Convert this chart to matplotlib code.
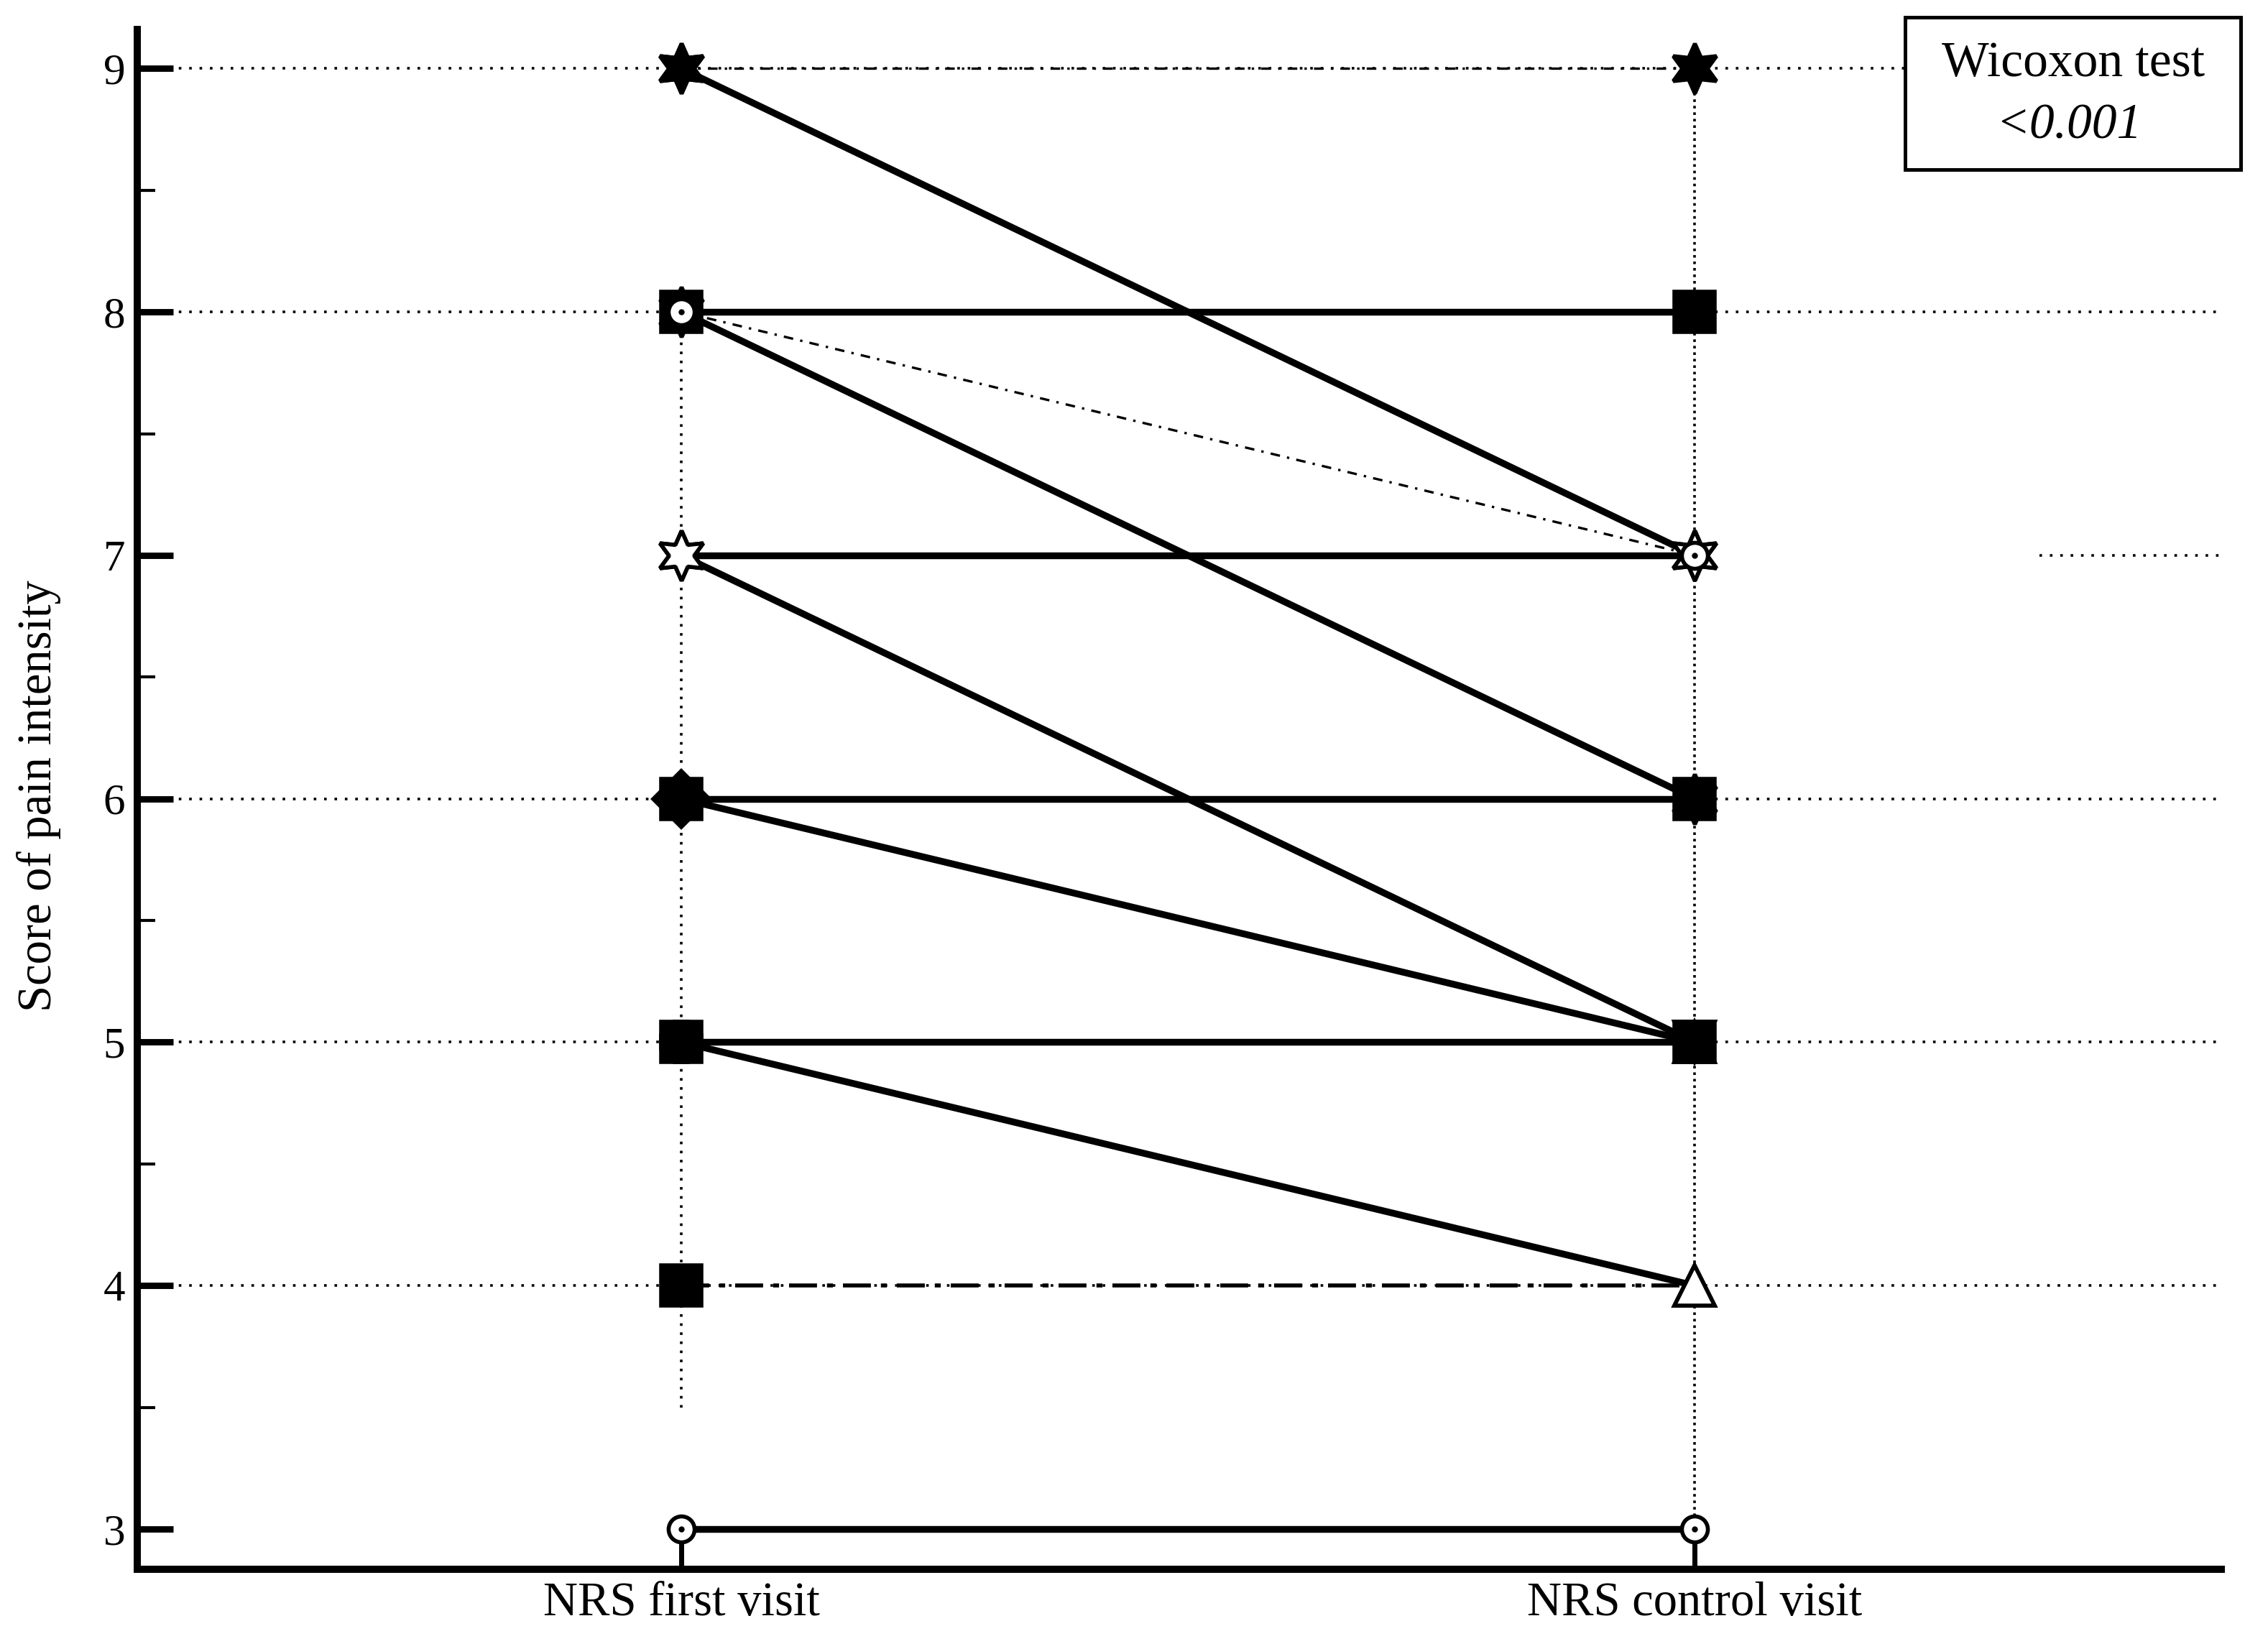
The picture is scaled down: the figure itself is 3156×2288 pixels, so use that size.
import matplotlib
matplotlib.use('Agg')
import matplotlib.pyplot as plt
from matplotlib.patches import Rectangle

plt.rcParams['font.family'] = ['Liberation Serif', 'DejaVu Serif']

# paired NRS scores, one entry per patient group
first_visit = [9, 9, 8, 8, 8, 7, 7, 6, 6, 5, 5, 4, 3]
control_visit = [7, 9, 8, 7, 6, 7, 5, 6, 5, 5, 4, 4, 3]
line_kind = ['solid', 'dashdot', 'solid', 'dashdot', 'solid', 'solid', 'solid',
             'solid', 'solid', 'solid', 'solid', 'dashdot2', 'solid']
marker_first = [(6, 1, 0), (6, 1, 0), 's', 'o', (6, 1, 0), (6, 1, 0), (6, 1, 0),
                's', 'D', 'P', 's', 's', 'o']
marker_ctrl = [(6, 1, 0), (6, 1, 0), 's', 'o', (6, 1, 0), (6, 1, 0), '^',
               's', 'v', 's', '^', '^', 'o']
fill_first = ['black', 'black', 'black', 'white', 'black', 'white', 'white',
              'black', 'black', 'white', 'black', 'black', 'white']
fill_ctrl = ['white', 'black', 'black', 'white', 'black', 'white', 'black',
             'black', 'black', 'black', 'white', 'white', 'white']

visits = ['NRS first visit', 'NRS control visit']
y_ticks = [3, 4, 5, 6, 7, 8, 9]

# dotted reference lines
grid_full = [4, 5, 6, 8, 9]
grid_part = [7]


def marker_size(m):
    if m == 'o':
        return 13
    if isinstance(m, tuple):
        return 25
    return 20


fig = plt.figure(figsize=(15.78, 11.44), dpi=200)
ax = fig.add_axes([0.0605, 0.0455, 0.919, 0.9365])

ax.hlines(grid_full, -0.537, 1.52, colors='black', linestyles=(0, (1, 3)), lw=1.3, zorder=1)
ax.hlines(grid_part, 1.34, 1.52, colors='black', linestyles=(0, (1, 3)), lw=1.3, zorder=1)
ax.vlines([0], 3.5, 8, colors='black', linestyles=(0, (1, 2.5)), lw=1.3, zorder=1)
ax.vlines([1], 3, 9, colors='black', linestyles=(0, (1, 1.5)), lw=1.3, zorder=1)

for i in range(len(first_visit)):
    y = [first_visit[i], control_visit[i]]
    if line_kind[i] == 'solid':
        ax.plot([0, 1], y, color='black', lw=3.4, solid_capstyle='butt', zorder=2)
    elif line_kind[i] == 'dashdot':
        ax.plot([0, 1], y, color='black', lw=1.2, dashes=(4, 3, 1, 3), zorder=2)
    else:
        ax.plot([0, 1], y, color='black', lw=2.0, dashes=(7, 2.5, 1.5, 2.5), zorder=2)

for i in range(len(first_visit)):
    z0 = 4 if marker_first[i] == 'o' else 3
    z1 = 4 if marker_ctrl[i] == 'o' else 3
    ax.plot([0], [first_visit[i]], marker=marker_first[i], ms=marker_size(marker_first[i]),
            mfc=fill_first[i], mec='black', mew=2, ls='none', zorder=z0)
    ax.plot([1], [control_visit[i]], marker=marker_ctrl[i], ms=marker_size(marker_ctrl[i]),
            mfc=fill_ctrl[i], mec='black', mew=2, ls='none', zorder=z1)

# dot in the middle of the open circles
for i in range(len(first_visit)):
    if marker_first[i] == 'o':
        ax.plot([0], [first_visit[i]], marker='.', ms=4, color='black', zorder=5)
    if marker_ctrl[i] == 'o':
        ax.plot([1], [control_visit[i]], marker='.', ms=4, color='black', zorder=5)

ax.set_xlim(-0.537, 1.52)
ax.set_ylim(2.835, 9.16)
ax.set_xticks([0, 1])
ax.set_xticklabels(visits, fontsize=24)
ax.set_yticks(y_ticks)
ax.set_yticklabels([str(t) for t in y_ticks], fontsize=22)
ax.set_yticks([3.5, 4.5, 5.5, 6.5, 7.5, 8.5], minor=True)

ax.tick_params(axis='y', which='major', direction='in', length=18, width=3.2, pad=6)
ax.tick_params(axis='y', which='minor', direction='in', length=9, width=1.5)
ax.tick_params(axis='x', which='major', direction='in', length=18, width=2.5, pad=6)

for side in ['top', 'right']:
    ax.spines[side].set_visible(False)
for side in ['left', 'bottom']:
    ax.spines[side].set_linewidth(3.6)

fig.text(0.017, 0.516, 'Score of pain intensity', rotation=90, fontsize=24,
         ha='center', va='center')

box = Rectangle((0.840, 0.8969), 0.148, 0.0926, transform=fig.transFigure,
                facecolor='white', edgecolor='black', lw=1.8, zorder=5)
fig.patches.append(box)
fig.text(0.914, 0.961, 'Wicoxon test', fontsize=25, ha='center', va='center', zorder=6)
fig.text(0.912, 0.923, '<0.001', fontsize=25, style='italic', ha='center', va='center', zorder=6)

fig.savefig('out.png', dpi=200)
